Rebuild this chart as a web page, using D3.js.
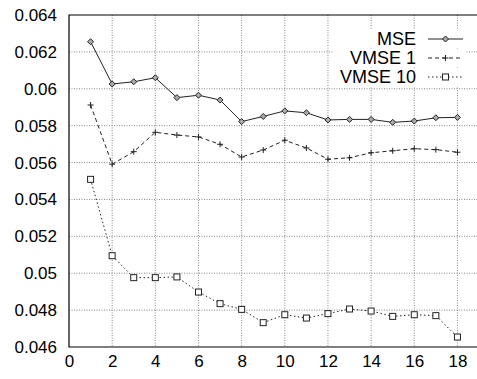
<!DOCTYPE html>
<html>
<head>
<meta charset="utf-8">
<script src="https://cdn.jsdelivr.net/npm/d3@7"></script>
<style>
  body { margin: 0; background: #fff; }
  svg text { font-family: "Liberation Sans", Arial, sans-serif; font-size: 17px; fill: #000; }
</style>
</head>
<body>
<div id="chart"></div>
<script>
const xs = [1, 2, 3, 4, 5, 6, 7, 8, 9, 10, 11, 12, 13, 14, 15, 16, 17, 18]
const mse = [0.06255, 0.06026, 0.06038, 0.0606, 0.05952, 0.05965, 0.05939, 0.05822, 0.0585,
  0.0588, 0.0587, 0.05831, 0.05834, 0.05834, 0.05818, 0.05825, 0.05843, 0.05845]
const vmse1 = [0.05912, 0.05591, 0.05659, 0.05764, 0.05749, 0.05739, 0.05699, 0.0563, 0.05668,
  0.05721, 0.05679, 0.05618, 0.05626, 0.05653, 0.05664, 0.05675, 0.0567, 0.05656]
const vmse10 = [0.05509, 0.05095, 0.04976, 0.04976, 0.0498, 0.04898, 0.04835, 0.04804, 0.04732,
  0.04775, 0.04757, 0.04781, 0.04806, 0.04795, 0.04766, 0.04775, 0.0477, 0.04654]
const xTicks = [0, 2, 4, 6, 8, 10, 12, 14, 16, 18]
const yTicks = [0.046, 0.048, 0.05, 0.052, 0.054, 0.056, 0.058, 0.06, 0.062, 0.064]
const seriesNames = ["MSE", "VMSE 1", "VMSE 10"]

const width = 477, height = 379
const margin = {top: 15, left: 69, bottom: 32}

const svg = d3.select("#chart").append("svg")
  .attr("width", width).attr("height", height)

const x = d3.scaleLinear().domain([0, 19]).range([margin.left, margin.left + 19 * 21.58])
const y = d3.scaleLinear().domain([0.046, 0.064]).range([height - margin.bottom, margin.top])

// grid
svg.append("g").selectAll("line")
  .data(yTicks.slice(1, -1))
  .enter().append("line")
    .attr("x1", x(0)).attr("x2", width)
    .attr("y1", d => y(d)).attr("y2", d => y(d))
    .style("stroke", "#888").style("stroke-dasharray", "1,1.5")
svg.append("g").selectAll("line")
  .data(xTicks.slice(1))
  .enter().append("line")
    .attr("x1", d => x(d)).attr("x2", d => x(d))
    .attr("y1", y(0.064)).attr("y2", y(0.046))
    .style("stroke", "#888").style("stroke-dasharray", "1,1.5")

// axes
const xAxis = svg.append("g")
  .attr("transform", "translate(0," + y(0.046) + ")")
  .call(d3.axisBottom(x).tickValues(xTicks).tickSize(0).tickPadding(8))
xAxis.select(".domain").remove()
xAxis.selectAll("text").style("font-size", "17px")
const yAxis = svg.append("g")
  .attr("transform", "translate(" + x(0) + ",0)")
  .call(d3.axisLeft(y).tickValues(yTicks).tickFormat(d => +d.toFixed(3) + "").tickSize(0).tickPadding(12))
yAxis.select(".domain").remove()
yAxis.selectAll("text").style("font-size", "17px")

// frame
svg.append("path")
  .attr("d", "M" + width + "," + y(0.064) + "H" + x(0) + "V" + y(0.046) + "H" + width)
  .style("fill", "none").style("stroke", "#000").style("stroke-width", 1.2)

const series = [
  {name: seriesNames[0], values: mse, dash: null, marker: "diamond"},
  {name: seriesNames[1], values: vmse1, dash: "4,3", marker: "plus"},
  {name: seriesNames[2], values: vmse10, dash: "1.5,2.5", marker: "square"}
]

const line = d3.line().x(d => x(d[0])).y(d => y(d[1]))

function drawMarker(g, kind, cx, cy) {
  if (kind === "diamond") {
    g.append("path")
      .attr("d", `M${cx},${cy - 3}L${cx + 3},${cy}L${cx},${cy + 3}L${cx - 3},${cy}Z`)
      .style("fill", "#aaa").style("stroke", "#222").style("stroke-width", 1)
  } else if (kind === "plus") {
    g.append("path")
      .attr("d", `M${cx - 3},${cy}H${cx + 3}M${cx},${cy - 3}V${cy + 3}`)
      .style("stroke", "#222").style("stroke-width", 1)
  } else {
    g.append("rect")
      .attr("x", cx - 3).attr("y", cy - 3).attr("width", 6).attr("height", 6)
      .style("fill", "#fff").style("stroke", "#222").style("stroke-width", 1)
  }
}

series.forEach((s, i) => {
  const pts = xs.map((v, j) => [v, s.values[j]])
  const g = svg.append("g")
  g.append("path")
    .datum(pts)
    .attr("d", line)
    .style("fill", "none").style("stroke", "#222").style("stroke-width", 1)
    .style("stroke-dasharray", s.dash)
  pts.forEach(p => drawMarker(g, s.marker, x(p[0]), y(p[1])))

  // legend
  const ly = 39 + i * 19
  svg.append("rect").attr("x", 333).attr("y", ly - 9).attr("width", 132).attr("height", 18).style("fill", "#fff")
  svg.append("text")
    .attr("x", 416).attr("y", ly + 6)
    .attr("text-anchor", "end")
    .style("font-size", "18px")
    .text(s.name)
  svg.append("line")
    .attr("x1", 428).attr("x2", 463).attr("y1", ly).attr("y2", ly)
    .style("stroke", "#222").style("stroke-width", 1)
    .style("stroke-dasharray", s.dash)
  drawMarker(svg, s.marker, 445.5, ly)
})
</script>
</body>
</html>
